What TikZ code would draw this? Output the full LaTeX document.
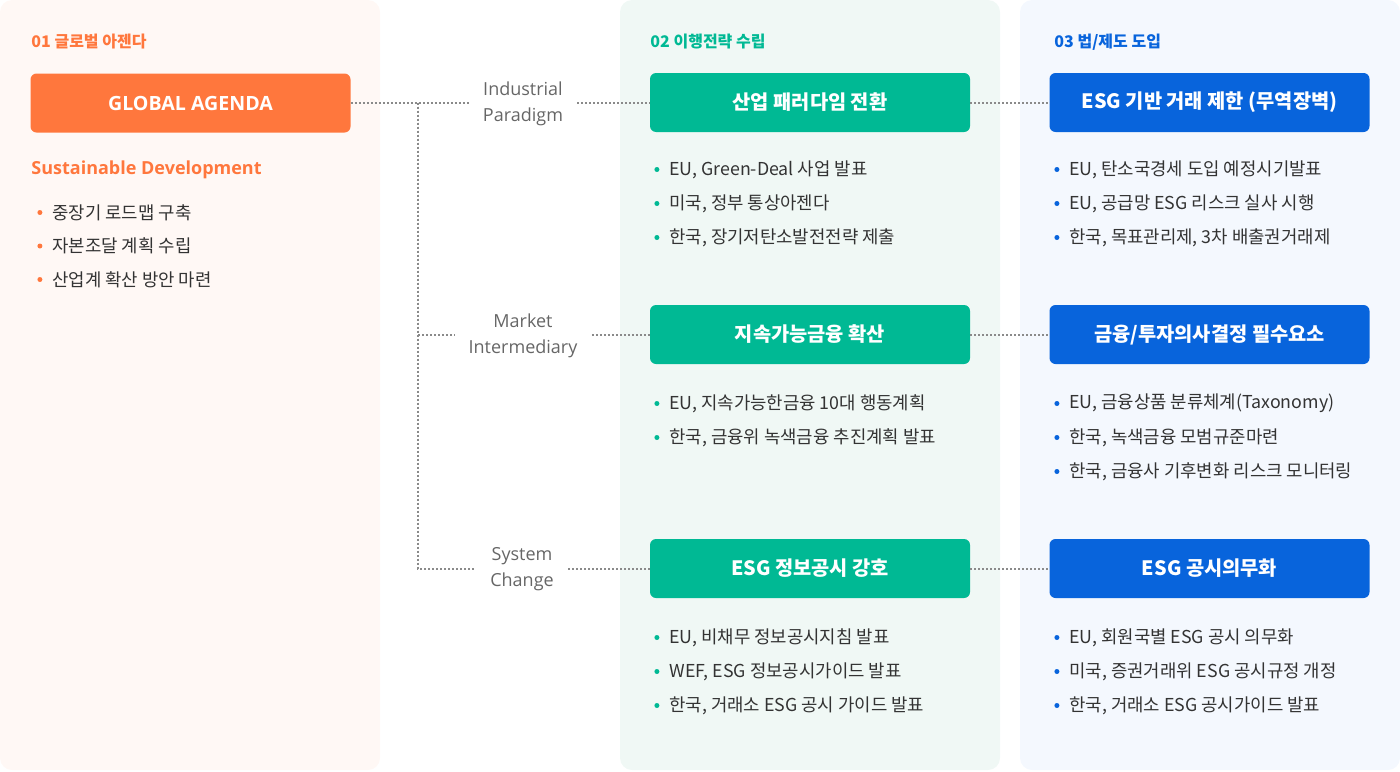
\documentclass[tikz,border=0pt]{standalone}
\usepackage{fontspec}
\setmainfont{Noto Sans CJK KR}
\newfontfamily\latinfont{Open Sans}
\usetikzlibrary{positioning,calc}
\definecolor{coral}{RGB}{255,119,61}
\definecolor{mint}{RGB}{0,185,148}
\definecolor{cobalt}{RGB}{8,100,220}
\definecolor{peach}{RGB}{255,248,245}
\definecolor{frost}{RGB}{240,248,245}
\definecolor{haze}{RGB}{244,248,254}
\definecolor{ink}{RGB}{51,51,51}
\definecolor{slate}{RGB}{102,102,102}
\definecolor{dots}{RGB}{138,138,138}

\begin{document}
\begin{tikzpicture}[x=0.5pt,y=-0.5pt,
    panel/.style={rounded corners=6pt},
    stagebox/.style={fill=#1,rounded corners=3pt,minimum width=160pt,minimum height=29.5pt,inner sep=0pt,text=white,font=\fontsize{9.9}{11}\selectfont\bfseries},
    head/.style={anchor=west,inner sep=0pt,text=#1,font=\fontsize{8}{9}\selectfont\bfseries},
    item/.style={anchor=west,inner sep=0pt,text=ink,font=\fontsize{8.9}{10}\selectfont,
      label={[fill=#1,circle,inner sep=0pt,minimum size=2.5pt,label distance=4.6pt]left:{}}},
    route/.style={align=center,text=slate,inner xsep=7pt,font=\latinfont\fontsize{9}{13}\selectfont},
    link/.style={draw=dots,line width=1pt,dash pattern=on 1pt off 1pt}]

  \useasboundingbox (0,0) rectangle (1400,771);

  % column panels
  \fill[peach,panel] (0,0) rectangle (380,770);
  \fill[frost,panel] (620,0) rectangle (1000,770);
  \fill[haze,panel] (1020,0) rectangle (1400,770);

  % column heads
  \node[head=coral] (h1) at (31,42) {01 글로벌 아젠다};
  \node[head=mint] (h2) at (650,42) {02 이행전략 수립};
  \node[head=cobalt] (h3) at (1054,42) {03 법/제도 도입};

  % global agenda
  \node[stagebox=coral,font=\latinfont\fontsize{9.8}{11}\selectfont\bfseries] (ga) at (190.5,103) {GLOBAL AGENDA};
  \node[anchor=west,inner sep=0pt,text=coral,font=\latinfont\fontsize{9}{10}\selectfont\bfseries] (sd) at (31,169.5) {Sustainable Development};
  \foreach \t [count=\i from 0] in {중장기 로드맵 구축, 자본조달 계획 수립, 산업계 확산 방안 마련}
    \node[item=coral] (a\i) at (52,212.5+\i*33.5) {\t};

  % strategy and law boxes
  \foreach \s/\r/\y [count=\i] in {
      산업 패러다임 전환/{ESG 기반 거래 제한 (무역장벽)}/102.5,
      지속가능금융 확산/{금융/투자의사결정 필수요소}/334.5,
      ESG 정보공시 강호/ESG 공시의무화/568.5}
  {
    \node[stagebox=mint] (s\i) at (810,\y) {\s};
    \node[stagebox=cobalt] (r\i) at (1209.5,\y) {\r};
  }

  % bullets under the boxes
  \foreach \t [count=\i from 0] in {{EU, Green-Deal 사업 발표}, {미국, 정부 통상아젠다}, {한국, 장기저탄소발전전략 제출}}
    \node[item=mint] (s1\i) at (669,169.5+\i*34) {\t};
  \foreach \t [count=\i from 0] in {{EU, 지속가능한금융 10대 행동계획}, {한국, 금융위 녹색금융 추진계획 발표}}
    \node[item=mint] (s2\i) at (669,403.5+\i*34) {\t};
  \foreach \t [count=\i from 0] in {{EU, 비채무 정보공시지침 발표}, {WEF, ESG 정보공시가이드 발표}, {한국, 거래소 ESG 공시 가이드 발표}}
    \node[item=mint] (s3\i) at (669,637.5+\i*34) {\t};
  \foreach \t [count=\i from 0] in {{EU, 탄소국경세 도입 예정시기발표}, {EU, 공급망 ESG 리스크 실사 시행}, {한국, 목표관리제, 3차 배출권거래제}}
    \node[item=cobalt] (r1\i) at (1069,169.5+\i*34) {\t};
  \foreach \t [count=\i from 0] in {{EU, 금융상품 분류체계(Taxonomy)}, {한국, 녹색금융 모범규준마련}, {한국, 금융사 기후변화 리스크 모니터링}}
    \node[item=cobalt] (r2\i) at (1069,403.5+\i*34) {\t};
  \foreach \t [count=\i from 0] in {{EU, 회원국별 ESG 공시 의무화}, {미국, 증권거래위 ESG 공시규정 개정}, {한국, 거래소 ESG 공시가이드 발표}}
    \node[item=cobalt] (r3\i) at (1069,637.5+\i*34) {\t};

  % routes
  \node[route] (ip) at (523,104) {Industrial\\Paradigm};
  \node[route] (mi) at (523,336) {Market\\Intermediary};
  \node[route] (sc) at (522,569.5) {System\\Change};
  \coordinate (hub) at (418,102.5);

  \draw[link] (ga.east) -- (ga.east -| ip.west);
  \draw[link] (hub) |- ($(mi.west)+(0,-1.5)$);
  \draw[link] (hub) |- ($(sc.west)+(0,-1)$);
  \foreach \n [count=\i] in {ip,mi,sc}
  {
    \draw[link] (\n.east |- s\i.west) -- (s\i.west);
    \draw[link] (s\i.east) -- (r\i.west);
  }
\end{tikzpicture}
\end{document}
